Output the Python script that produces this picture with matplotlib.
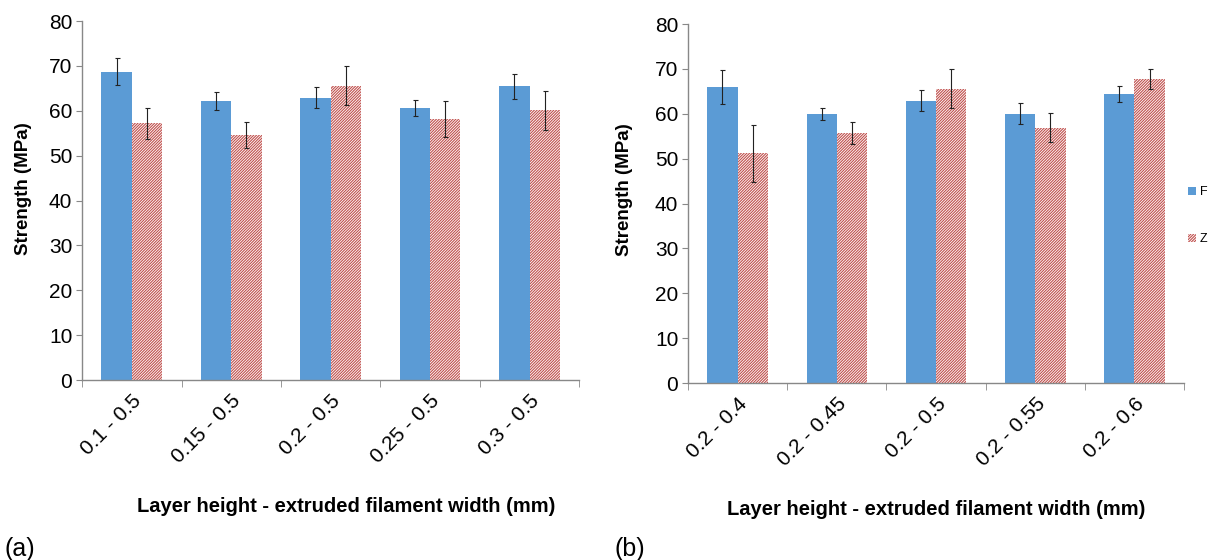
import matplotlib
matplotlib.use("Agg")
import matplotlib.pyplot as plt
import numpy as np
from matplotlib.patches import Patch

plt.rcParams['font.family'] = ['Liberation Sans', 'DejaVu Sans']
plt.rcParams['hatch.linewidth'] = 0.8

cats_a = ["0.1 - 0.5", "0.15 - 0.5", "0.2 - 0.5", "0.25 - 0.5", "0.3 - 0.5"]
f_a = [68.7, 62.1, 62.9, 60.6, 65.5]
f_a_err = [3.0, 2.0, 2.3, 1.8, 2.8]
z_a = [57.2, 54.6, 65.6, 58.1, 60.1]
z_a_err = [3.4, 2.8, 4.3, 4.0, 4.3]

cats_b = ["0.2 - 0.4", "0.2 - 0.45", "0.2 - 0.5", "0.2 - 0.55", "0.2 - 0.6"]
f_b = [66.0, 60.0, 62.9, 60.0, 64.4]
f_b_err = [3.8, 1.3, 2.3, 2.3, 1.7]
z_b = [51.2, 55.7, 65.6, 56.9, 67.8]
z_b_err = [6.3, 2.5, 4.3, 3.2, 2.2]

BLUE = "#5B9BD5"
RED = "#C0504D"
HATCH = "/" * 12

fig = plt.figure(figsize=(12.1, 5.6), dpi=100)
ax_a = fig.add_axes([0.0678, 0.3214, 0.411, 0.641])
ax_b = fig.add_axes([0.5686, 0.316, 0.41, 0.641])

def draw(ax, cats, f, fe, z, ze, xlab_x, ylab_xy):
    x = np.arange(len(cats))
    w = 0.305
    ax.bar(x - w / 2, f, w, color=BLUE, edgecolor="none", zorder=2)
    ax.bar(x + w / 2, z, w, color="white", edgecolor=RED, hatch=HATCH,
           linewidth=0, zorder=2)
    ax.errorbar(x - w / 2, f, yerr=fe, fmt="none", ecolor="#222222",
                elinewidth=0.8, capsize=1.8, capthick=0.8, zorder=3)
    ax.errorbar(x + w / 2, z, yerr=ze, fmt="none", ecolor="#222222",
                elinewidth=0.8, capsize=1.8, capthick=0.8, zorder=3)
    ax.set_xlim(-0.5, len(cats) - 0.5)
    ax.set_ylim(0, 80)
    ax.set_yticks(np.arange(0, 81, 10))
    ax.set_xticks(x)
    ax.set_xticklabels(cats, rotation=45, ha="right", rotation_mode="anchor",
                       fontsize=15)
    ax.set_xticks(np.arange(-0.5, len(cats), 1.0), minor=True)
    ax.tick_params(axis="x", which="major", length=0, pad=8)
    ax.tick_params(axis="x", which="minor", length=5, color="#888888")
    ax.tick_params(axis="y", length=4, color="#888888", labelsize=15, pad=3)
    for s in ["top", "right"]:
        ax.spines[s].set_visible(False)
    for s in ["left", "bottom"]:
        ax.spines[s].set_color("#888888")
        ax.spines[s].set_linewidth(1.0)
    ax.set_ylabel("Strength (MPa)", fontsize=13.5, fontweight="bold")
    ax.yaxis.set_label_coords(*ylab_xy)
    ax.set_xlabel("Layer height - extruded filament width (mm)", fontsize=14.5,
                  fontweight="bold", va="top")
    ax.xaxis.set_label_coords(xlab_x, -0.325)

draw(ax_a, cats_a, f_a, f_a_err, z_a, z_a_err, 0.532, (-0.101, 0.532))
draw(ax_b, cats_b, f_b, f_b_err, z_b, z_b_err, 0.5, (-0.111, 0.54))

handles = [Patch(facecolor=BLUE, edgecolor="none", label="F"),
           Patch(facecolor="white", edgecolor=RED, hatch=HATCH, linewidth=0, label="Z")]
fig.legend(handles=handles, loc="center left", bbox_to_anchor=(0.977, 0.615),
           frameon=False, fontsize=9, handlelength=0.6, handleheight=0.6,
           handletextpad=0.3, labelspacing=2.8, borderpad=0)

fig.text(0.004, 0.008, "(a)", fontsize=18)
fig.text(0.508, 0.008, "(b)", fontsize=18)

fig.savefig("out.png", dpi=100, facecolor="white")
